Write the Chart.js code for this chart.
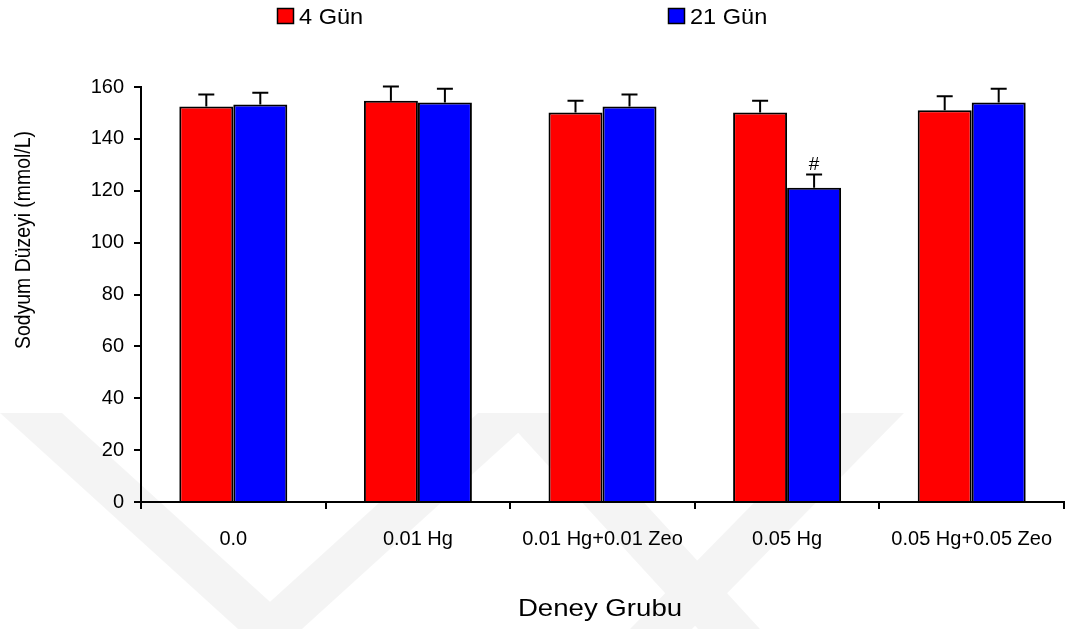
<!DOCTYPE html>
<html>
<head>
<meta charset="utf-8">
<script src="https://cdn.jsdelivr.net/npm/chart.js@4"></script>
<style>
  html, body { margin: 0; padding: 0; background: #ffffff; }
  #wrap { width: 1073px; height: 629px; }
</style>
</head>
<body>
<div id="wrap"><canvas id="c" width="1073" height="629"></canvas></div>
<script>
// Serum sodium level by experiment group, day 4 vs day 21
const categories = ['0.0', '0.01 Hg', '0.01 Hg+0.01 Zeo', '0.05 Hg', '0.05 Hg+0.05 Zeo'];
const seriesNames = ['4 Gün', '21 Gün'];
const day4Values = [152.5, 154.7, 150.2, 150.2, 151.0];
const day4Errors = [4.6, 5.5, 4.5, 4.5, 5.4];
const day21Values = [153.3, 154.0, 152.5, 121.2, 154.0];
const day21Errors = [4.5, 5.3, 4.6, 5.1, 5.3];
const day21Marks = ['', '', '', '#', ''];
const yTicks = [0, 20, 40, 60, 80, 100, 120, 140, 160];
const yTitle = 'Sodyum Düzeyi (mmol/L)';
const xTitle = 'Deney Grubu';

const FONT = '"Liberation Sans", Arial, sans-serif';
const RED = '#ff0000';
const BLUE = '#0000ff';

// faint background emblem
const emblem = {
  id: 'emblem',
  beforeDraw(chart) {
    const ctx = chart.ctx;
    ctx.save();
    ctx.fillStyle = 'rgba(0,0,0,0.045)';
    ctx.beginPath();
    const bands = [
      [[0,413],[62,413],[300,629],[238,629]],
      [[478,413],[540,413],[302,629],[240,629]],
      [[500,413],[562,413],[760,629],[698,629]],
      [[842,413],[904,413],[692,629],[630,629]]
    ];
    bands.forEach(p => {
      ctx.moveTo(p[0][0], p[0][1]);
      for (let i = 1; i < p.length; i++) ctx.lineTo(p[i][0], p[i][1]);
      ctx.closePath();
    });
    ctx.fill('nonzero');
    ctx.restore();
  }
};

// upper error whiskers and significance marks
const whiskers = {
  id: 'whiskers',
  afterDatasetsDraw(chart) {
    const ctx = chart.ctx;
    const y = chart.scales.y;
    const errs = [day4Errors, day21Errors];
    const marks = [null, day21Marks];
    ctx.save();
    ctx.strokeStyle = '#000';
    ctx.lineWidth = 2;
    chart.data.datasets.forEach((ds, di) => {
      const meta = chart.getDatasetMeta(di);
      meta.data.forEach((bar, i) => {
        const v = ds.data[i];
        const top = y.getPixelForValue(v);
        const cap = y.getPixelForValue(v + errs[di][i]);
        ctx.beginPath();
        ctx.moveTo(bar.x, top);
        ctx.lineTo(bar.x, cap);
        ctx.moveTo(bar.x - 8, cap);
        ctx.lineTo(bar.x + 8, cap);
        ctx.stroke();
        if (marks[di] && marks[di][i]) {
          ctx.fillStyle = '#000';
          ctx.font = '19px ' + FONT;
          ctx.textAlign = 'center';
          ctx.textBaseline = 'alphabetic';
          ctx.fillText(marks[di][i], bar.x, cap - 4);
        }
      });
    });
    ctx.restore();
  }
};

// legend row and axis titles
const labels = {
  id: 'labels',
  afterDraw(chart) {
    const ctx = chart.ctx;
    ctx.save();
    const colors = [RED, BLUE];
    const boxX = [277, 668];
    ctx.font = '22px ' + FONT;
    ctx.textBaseline = 'alphabetic';
    ctx.textAlign = 'left';
    seriesNames.forEach((name, i) => {
      ctx.fillStyle = colors[i];
      ctx.fillRect(boxX[i], 8, 17, 16);
      ctx.strokeStyle = '#000';
      ctx.lineWidth = 1.5;
      ctx.strokeRect(boxX[i] + 0.5, 8.5, 16, 15);
      ctx.fillStyle = '#000';
      ctx.save();
      ctx.translate(boxX[i] + 22, 24);
      ctx.scale(1.07, 1);
      ctx.fillText(name, 0, 0);
      ctx.restore();
    });
    ctx.fillStyle = '#000';
    ctx.font = '20px ' + FONT;
    ctx.textAlign = 'center';
    ctx.textBaseline = 'middle';
    ctx.save();
    ctx.translate(24, 240);
    ctx.rotate(-Math.PI / 2);
    ctx.scale(0.97, 1.12);
    ctx.fillText(yTitle, 0, 0);
    ctx.restore();
    ctx.font = '24px ' + FONT;
    ctx.textAlign = 'center';
    ctx.textBaseline = 'alphabetic';
    ctx.save();
    ctx.translate(600, 616);
    ctx.scale(1.15, 1);
    ctx.fillText(xTitle, 0, 0);
    ctx.restore();
    ctx.restore();
  }
};

new Chart(document.getElementById('c'), {
  type: 'bar',
  data: {
    labels: categories,
    datasets: [
      { label: seriesNames[0], data: day4Values, backgroundColor: RED, borderColor: '#000', borderWidth: 2, borderSkipped: 'bottom' },
      { label: seriesNames[1], data: day21Values, backgroundColor: BLUE, borderColor: '#000', borderWidth: 2, borderSkipped: 'bottom' }
    ]
  },
  options: {
    responsive: false,
    animation: false,
    devicePixelRatio: 1,
    layout: { padding: { top: 87, right: 9, left: 0, bottom: 0 } },
    datasets: { bar: { categoryPercentage: 0.585, barPercentage: 1.0 } },
    plugins: { legend: { display: false }, tooltip: { enabled: false } },
    scales: {
      x: {
        offset: true,
        grid: { offset: true, drawOnChartArea: false, drawTicks: true, tickLength: 7, color: '#000', lineWidth: 2 },
        border: { display: true, color: '#000', width: 2 },
        ticks: { color: '#000', font: { family: FONT, size: 20 }, padding: 18, maxRotation: 0, autoSkip: false },
        afterFit(scale) { scale.height = 127; }
      },
      y: {
        min: 0,
        max: 160,
        afterBuildTicks(scale) { scale.ticks = yTicks.map(v => ({ value: v })); },
        grid: { drawOnChartArea: false, drawTicks: true, tickLength: 7, color: '#000', lineWidth: 2 },
        border: { display: true, color: '#000', width: 2 },
        ticks: { color: '#000', font: { family: FONT, size: 20 }, padding: 10 },
        afterFit(scale) { scale.width = 141; }
      }
    }
  },
  plugins: [emblem, whiskers, labels]
});
</script>
</body>
</html>
